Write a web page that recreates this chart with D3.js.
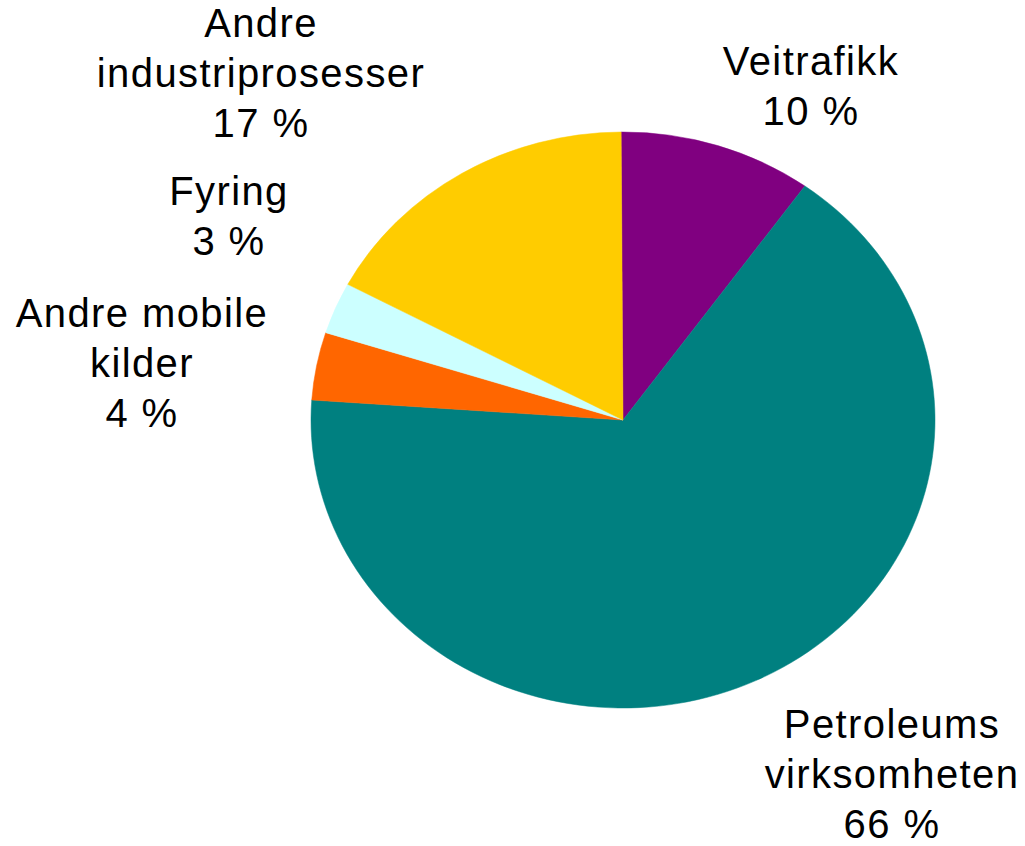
<!DOCTYPE html>
<html>
<head>
<meta charset="utf-8">
<script src="https://cdn.jsdelivr.net/npm/d3@7"></script>
<style>
  body { margin: 0; background: #fff; }
  text { font-family: "Liberation Sans", Arial, sans-serif; fill: #000; }
</style>
</head>
<body>
<div id="chart"></div>
<script>
// data
var categories = ["Veitrafikk", "Petroleums virksomheten", "Andre mobile kilder", "Fyring", "Andre industriprosesser"];
var shares = [10, 66.2, 3.8, 2.9, 17.1];
var colours = ["#800080", "#008080", "#FF6600", "#CCFFFF", "#FFCC00"];
var labelLines = [
  ["Veitrafikk", "10 %"],
  ["Petroleums", "virksomheten", "66 %"],
  ["Andre mobile", "kilder", "4 %"],
  ["Fyring", "3 %"],
  ["Andre", "industriprosesser", "17 %"]
];

// layout
var width = 1025, height = 846;
var cx = 623, cy = 420, rx = 312, ry = 288, r = 300;
var labelPos = [[811, 75], [892, 738], [142, 327], [229, 205], [261, 37]];
var lineHeight = 50;

var svg = d3.select("#chart").append("svg")
  .attr("width", width)
  .attr("height", height);

var pie = d3.pie().sort(null).value(function(d) { return d; })
  .startAngle(-0.006).endAngle(2 * Math.PI - 0.006);
var arc = d3.arc().innerRadius(0).outerRadius(r);

var g = svg.append("g")
  .attr("transform", "translate(" + cx + "," + cy + ") scale(" + (rx / r) + "," + (ry / r) + ")");

g.selectAll("path")
  .data(pie(shares))
  .enter().append("path")
    .attr("d", arc)
    .attr("fill", function(d, i) { return colours[i]; })
    .attr("stroke", function(d, i) { return colours[i]; })
    .attr("stroke-width", 0.5);

var labels = svg.selectAll("text.label")
  .data(categories)
  .enter().append("text")
    .attr("class", "label")
    .attr("text-anchor", "middle")
    .style("font-size", "40px")
    .style("letter-spacing", "1.4px")
    .attr("x", function(d, i) { return labelPos[i][0]; })
    .attr("y", function(d, i) { return labelPos[i][1]; });

labels.each(function(d, i) {
  var t = d3.select(this);
  labelLines[i].forEach(function(line, j) {
    t.append("tspan")
      .attr("x", labelPos[i][0])
      .attr("y", labelPos[i][1] + j * lineHeight)
      .text(line);
  });
});
</script>
</body>
</html>
